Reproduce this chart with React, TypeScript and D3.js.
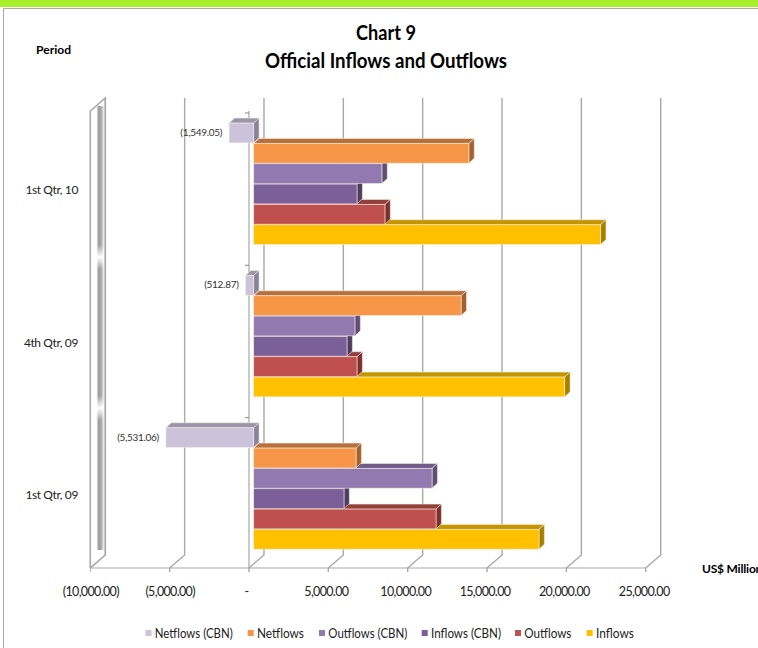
import React from "react";
import * as d3 from "d3";

const periods = ["1st Qtr, 09", "4th Qtr, 09", "1st Qtr, 10"];
const tickValues = [-10000, -5000, 0, 5000, 10000, 15000, 20000, 25000];
const tickLabels = ["(10,000.00)", "(5,000.00)", "-", "5,000.00", "10,000.00", "15,000.00", "20,000.00", "25,000.00"];
const seriesNames = ["Inflows", "Outflows", "Inflows (CBN)", "Outflows (CBN)", "Netflows", "Netflows (CBN)"];
const inflows = [17980, 19600, 21860];
const outflows = [11490, 6510, 8270];
const inflowsCbn = [5690, 5880, 6510];
const outflowsCbn = [11240, 6380, 8080];
const netflows = [6450, 13070, 13560];
const netflowsCbn = [-5531.06, -512.87, -1549.05];
const cbnLabels = ["(5,531.06)", "(512.87)", "(1,549.05)"];
const seriesValues = [inflows, outflows, inflowsCbn, outflowsCbn, netflows, netflowsCbn];
const fronts = ["#FFC000", "#C0504D", "#7B5F99", "#9279B0", "#F79646", "#CCC3DA"];
const tops = ["#C49500", "#93403D", "#5F4876", "#6F5C88", "#B8703A", "#9C94A8"];
const sides = ["#A67F00", "#7E2F2D", "#4F3C63", "#5F4D75", "#A2632F", "#8B8297"];
const legendOrder = [5, 4, 3, 2, 1, 0];
const legendSwatchX = [145.5, 247.7, 319, 421.7, 515, 586.7];
const legendWidths = [78, 47, 79, 70, 47, 38];
const wallBreaks = [257, 408];

const FONT = "Lato, 'Open Sans', sans-serif";
const x = d3.scaleLinear().domain([-10000, 25000]).range([90.3, 645.7]);
const floorY = 568, backDx = 15, backDy = 13, wallTop = 98;
const y = d3.scaleBand().domain(periods.slice().reverse()).range([111, 568]);
const barDx = 5.4, barDy = 5, baseDx = 4.7;

export default function App() {
  const inner = d3.scaleBand().domain(seriesNames.slice().reverse()).range([0, 122]);
  const grid = tickValues.map((v, i) => {
    const px = x(v);
    const labelDx = v === 0 ? -2.5 : v < 0 ? 0.5 : v === 25000 ? -1.5 : -2;
    return (
      <g key={v}>
        <path
          d={d3.line()([[px, floorY + 4], [px, floorY], [px + backDx, floorY - backDy], [px + backDx, wallTop]]) || ""}
          fill="none"
          stroke="#a8a8a8"
          strokeWidth={i === 0 ? 1 : 1.4}
        />
        <text x={px + labelDx} y={596} textAnchor="middle" fontSize={12.5} letterSpacing={-0.65} fill="#222">
          {tickLabels[i]}
        </text>
      </g>
    );
  });

  const bars: React.ReactNode[] = [];
  periods.forEach((p, pi) => {
    const bandTop = (y(p) as number) + 11.8;
    seriesNames.forEach((s, si) => {
      const v = seriesValues[si][pi];
      const y0 = bandTop + (inner(s) as number) + 0.3;
      const h = inner.bandwidth() - 0.6;
      const base = x(0) + baseDx;
      const end = base + (x(v) - x(0));
      const l = Math.min(base, end), r = Math.max(base, end);
      const top = d3.line()([[l, y0], [l + barDx, y0 - barDy], [r + barDx, y0 - barDy], [r, y0]]) + "Z";
      const side = d3.line()([[r, y0], [r + barDx, y0 - barDy], [r + barDx, y0 + h - barDy], [r, y0 + h]]) + "Z";
      bars.push(
        <g key={`${p}-${s}`} stroke="#f4eee2" strokeWidth={0.7} strokeOpacity={0.8}>
          <path d={top} fill={tops[si]} />
          <path d={side} fill={sides[si]} />
          <rect x={l} y={y0} width={r - l} height={h} fill={fronts[si]} />
          {si === 5 && (
            <text x={l - 7} y={y0 + h / 2 + 3} textAnchor="end" fontSize={10} letterSpacing={-0.3} fill="#333" stroke="none">
              {cbnLabels[pi]}
            </text>
          )}
        </g>
      );
    });
  });

  const axisTicks = periods.map((p) => {
    const ty = (y(p) as number) + 2;
    return <line key={p} x1={x(0) - 4} x2={x(0)} y1={ty} y2={ty} stroke="#888" strokeWidth={1} />;
  });

  const wallX = x(-10000);
  return (
    <svg width={758} height={648} style={{ position: "absolute", left: 0, top: 0, background: "#fff", fontFamily: FONT }}>
      <defs>
        <linearGradient id="wall" x1="0" x2="1" y1="0" y2="0">
          <stop offset="0" stopColor="#ffffff" />
          <stop offset="0.3" stopColor="#999999" />
          <stop offset="0.65" stopColor="#b0b0b0" />
          <stop offset="1" stopColor="#ffffff" />
        </linearGradient>
        <linearGradient id="fade" x1="0" x2="0" y1="0" y2="1">
          <stop offset="0" stopColor="#fff" stopOpacity={0} />
          <stop offset="0.5" stopColor="#fff" stopOpacity={1} />
          <stop offset="1" stopColor="#fff" stopOpacity={0} />
        </linearGradient>
      </defs>
      <rect x={0} y={0} width={758} height={7} fill="#A6EE28" />
      <path d="M3.5 648V8.5H758" fill="none" stroke="#a8a8a8" strokeWidth={1} />

      <text x={386} y={39.5} textAnchor="middle" fontSize={20} fontWeight={700} textLength={60} lengthAdjust="spacingAndGlyphs">Chart 9</text>
      <text x={386} y={68} textAnchor="middle" fontSize={20} fontWeight={700} textLength={242} lengthAdjust="spacingAndGlyphs">Official Inflows and Outflows</text>
      <text x={36} y={54} fontSize={12} fontWeight={700} textLength={35} lengthAdjust="spacingAndGlyphs">Period</text>
      <text x={702} y={573} fontSize={12} fontWeight={700} letterSpacing={-0.2}>US$ Million</text>

      {periods.map((p) => (
        <text key={p} x={78} y={(y(p) as number) + y.bandwidth() / 2 + 7} textAnchor="end" fontSize={12} letterSpacing={-0.4} fill="#222">
          {p}
        </text>
      ))}

      <rect x={wallX + 6} y={wallTop + 8} width={8} height={floorY - wallTop - 26} fill="url(#wall)" />
      {wallBreaks.map((b) => (
        <rect key={b} x={wallX + 5} y={b - 12} width={10} height={24} fill="url(#fade)" />
      ))}
      <path
        d={`M${wallX} ${floorY}V${wallTop + backDy}L${wallX + backDx} ${wallTop}V${floorY - backDy}L${wallX} ${floorY}`}
        fill="none"
        stroke="#a8a8a8"
        strokeWidth={1.6}
      />
      {grid}
      <line x1={x(-10000)} x2={x(25000)} y1={floorY} y2={floorY} stroke="#a8a8a8" strokeWidth={1.2} />
      <line x1={x(0)} x2={x(0)} y1={floorY} y2={111} stroke="#a8a8a8" strokeWidth={1.2} />
      {axisTicks}
      {bars}

      {legendOrder.map((si, i) => (
        <g key={si}>
          <rect x={legendSwatchX[i]} y={630} width={6} height={6} fill={fronts[si]} />
          <text x={legendSwatchX[i] + 9.3} y={637.5} fontSize={13} fill="#222" textLength={legendWidths[i]} lengthAdjust="spacingAndGlyphs">
            {seriesNames[si]}
          </text>
        </g>
      ))}
    </svg>
  );
}
